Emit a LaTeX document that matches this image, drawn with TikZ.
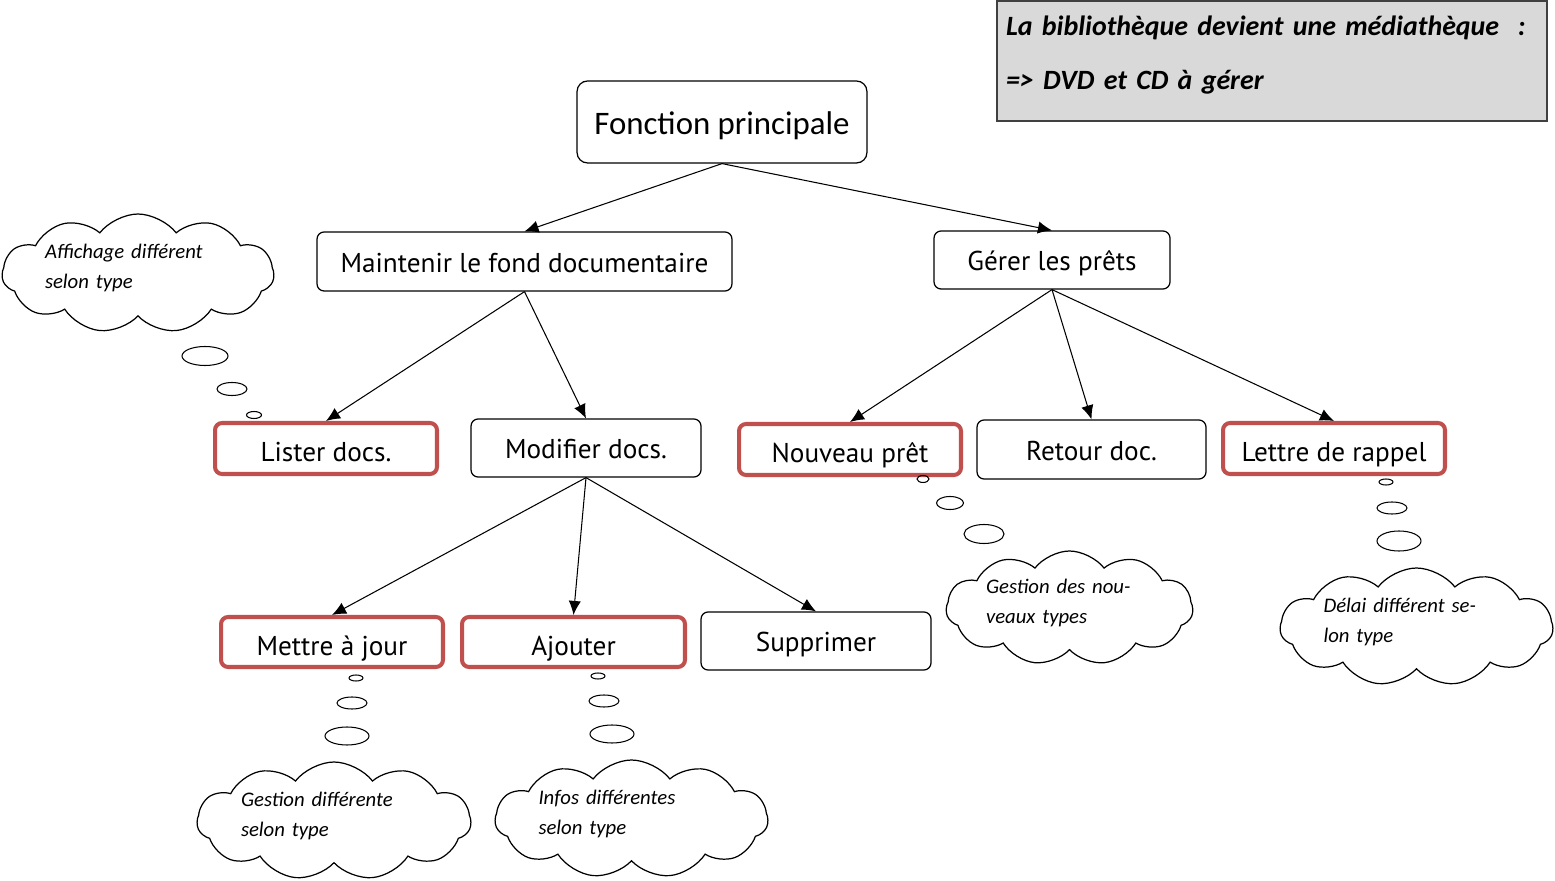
\documentclass[tikz,border=0pt]{standalone}
\usepackage{fontspec}
\setmainfont{Carlito}
\newfontfamily\boxfam{PT Sans}
\usetikzlibrary{shapes}
\usetikzlibrary{shapes.symbols}
\usetikzlibrary{arrows.meta}

\definecolor{redline}{HTML}{C0504D}
\definecolor{notegray}{HTML}{D9D9D9}
\definecolor{noteline}{HTML}{404040}

\begin{document}
\begin{tikzpicture}[x=0.02cm, y=-0.02cm, line width=0.7pt,
    box/.style = {draw, rounded corners=4pt, fill=white, inner sep=0pt, text height=12pt, text depth=0pt, font=\boxfam\fontsize{15.5}{18}\selectfont},
    redbox/.style = {box, draw=redline, line width=2.3pt, text height=15pt},
    thought/.style = {cloud, draw, cloud puffs=11, cloud puff arc=105, aspect=2.3, inner sep=0pt},
    cloudtext/.style = {text width=3.72cm, align=left, inner sep=0pt, yshift=3pt, font=\itshape\fontsize{11.8}{17}\selectfont},
    link/.style = {-{Latex[length=8pt, width=7pt]}, line width=0.6pt}]

    \useasboundingbox (0,0) rectangle (1555,881);

    % note in the corner
    \node (note) at (1272,61) [draw=noteline, fill=notegray, line width=1pt, minimum width=11cm, minimum height=2.4cm, text width=10.64cm, text height=12pt, text depth=41pt, align=left, font=\bfseries\itshape\fontsize{15.9}{31}\selectfont] {La bibliothèque devient une médiathèque~~:\\=> DVD et CD à gérer};

    % tree
    \node (fp) at (722,122) [box, rounded corners=6pt, minimum width=5.8cm, minimum height=1.64cm, text height=17pt, text depth=3pt, font=\fontsize{18.7}{22}\selectfont] {Fonction principale};

    \node (maint) at (524.5,261.5) [box, minimum width=8.3cm, minimum height=1.18cm] {Maintenir le fond documentaire};
    \node (gerer) at (1052,260) [box, minimum width=4.72cm, minimum height=1.16cm] {Gérer les prêts};

    \node (lister)  at (326,448.5)  [redbox, minimum width=4.44cm, minimum height=1.02cm] {Lister docs.};
    \node (modif)   at (586,448)    [box, minimum width=4.6cm, minimum height=1.16cm] {Modifier docs.};
    \node (nouveau) at (850,449.5)  [redbox, minimum width=4.44cm, minimum height=1.02cm] {Nouveau prêt};
    \node (retour)  at (1091.5,449.5) [box, minimum width=4.58cm, minimum height=1.18cm] {Retour doc.};
    \node (lettre)  at (1334,448.5) [redbox, minimum width=4.44cm, minimum height=1.02cm] {Lettre de rappel};

    \node (mettre)  at (332,642)   [redbox, minimum width=4.44cm, minimum height=1.0cm] {Mettre à jour};
    \node (ajouter) at (573.5,642) [redbox, minimum width=4.46cm, minimum height=1.0cm] {Ajouter};
    \node (suppr)   at (816,641)   [box, minimum width=4.6cm, minimum height=1.16cm] {Supprimer};

    \draw[link] (fp.south) -- (maint.north);
    \draw[link] (fp.south) -- (gerer.north);
    \draw[link] (maint.south) -- (lister.north);
    \draw[link] (maint.south) -- (modif.north);
    \draw[link] (gerer.south) -- (nouveau.north);
    \draw[link] (gerer.south) -- (retour.north);
    \draw[link] (gerer.south) -- (lettre.north);
    \draw[link] (modif.south) -- (mettre.north);
    \draw[link] (modif.south) -- (ajouter.north);
    \draw[link] (modif.south) -- (suppr.north);

    % thought clouds
    \node (c1) at (138,273.5)   [thought, minimum width=5.44cm, minimum height=2.38cm, label={[cloudtext]center:{Affichage différent\\selon type}}] {};
    \node (c2) at (1069.5,608)  [thought, minimum width=4.94cm, minimum height=2.28cm, label={[cloudtext, text width=3.34cm]center:{Gestion des nou-\\veaux types}}] {};
    \node (c3) at (1416.5,627)  [thought, minimum width=5.46cm, minimum height=2.36cm, label={[cloudtext]center:{Délai différent se-\\lon type}}] {};
    \node (c4) at (334,821)     [thought, minimum width=5.48cm, minimum height=2.36cm, label={[cloudtext]center:{Gestion différente\\selon type}}] {};
    \node (c5) at (631.5,819)   [thought, minimum width=5.46cm, minimum height=2.36cm, label={[cloudtext]center:{Infos différentes\\selon type}}] {};

    \foreach \bx/\by/\rx/\ry in {205/356/.46/.19, 232/389/.30/.13, 254/415/.15/.07,
                                 923/479/.12/.07, 950/503/.27/.13, 984/534/.40/.19,
                                 1386/482/.14/.06, 1392/508/.30/.12, 1399/541/.44/.20,
                                 356/678/.14/.06, 352/703/.30/.12, 347/736/.44/.18,
                                 598/676/.14/.06, 604/701/.30/.12, 612/734/.44/.18}
        \draw[line width=0.6pt] (\bx,\by) ellipse [x radius=\rx cm, y radius=\ry cm];

\end{tikzpicture}
\end{document}
